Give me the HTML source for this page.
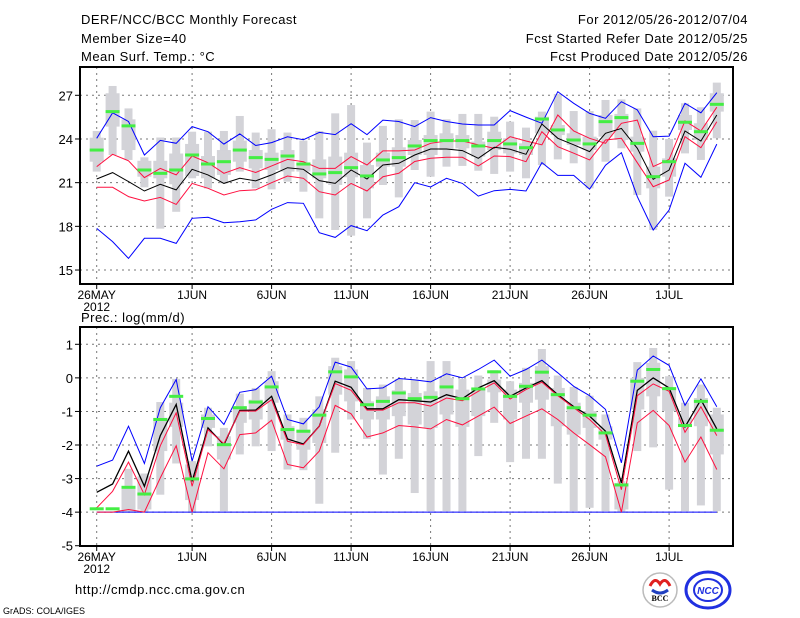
<!DOCTYPE html>
<html><head><meta charset="utf-8"><style>
html,body{margin:0;padding:0;background:#fff;}
svg{display:block;font-family:"Liberation Sans",sans-serif;}
.hdr{letter-spacing:0.5px;}
</style></head><body>
<svg id="c" width="800" height="618" viewBox="0 0 800 618">
<g font-size="13" fill="#000">
<text class="hdr" x="81" y="24">DERF/NCC/BCC Monthly Forecast</text>
<text class="hdr" x="81" y="43">Member Size=40</text>
<text class="hdr" x="81" y="61">Mean Surf. Temp.: °C</text>
<text class="hdr" x="748" y="24" text-anchor="end">For 2012/05/26-2012/07/04</text>
<text class="hdr" x="748" y="43" text-anchor="end">Fcst Started Refer Date 2012/05/25</text>
<text class="hdr" x="748" y="61" text-anchor="end">Fcst Produced Date 2012/05/26</text>
<text class="hdr" x="81" y="322">Prec.: log(mm/d)</text>
<text class="hdr" x="75" y="594">http://cmdp.ncc.cma.gov.cn</text>
<text x="3" y="614" font-size="9">GrADS: COLA/IGES</text>
</g>
<g>
<circle cx="660" cy="590" r="17" fill="#fff" stroke="#bbb" stroke-width="1.5"/>
<path d="M650 586 q5 -10 10 -2 q5 -8 10 2" fill="none" stroke="#e02020" stroke-width="3"/>
<path d="M652 590 q8 6 16 0" fill="none" stroke="#2040c0" stroke-width="3"/>
<text x="660" y="601" font-size="8" text-anchor="middle" font-family="Liberation Serif,serif" font-weight="bold">BCC</text>
</g>
<g>
<ellipse cx="708" cy="590" rx="22" ry="18" fill="none" stroke="#2030e0" stroke-width="3"/>
<ellipse cx="708" cy="590" rx="14" ry="11" fill="none" stroke="#2030e0" stroke-width="2"/>
<text x="708" y="594" font-size="10" font-style="italic" font-weight="bold" text-anchor="middle" fill="#2030e0">NCC</text>
</g>
<g id="top"></g>
<g id="bot"></g>
</svg>
<script>
// ---- temperature data ----
var tBlueHi=[24.05,25.8,25.2,22.9,23.9,23.7,24.85,24.5,23.65,24.35,23.55,23.75,24.15,23.95,24.45,24.3,25.05,24.3,25.3,25.2,24.85,25.47,25.2,25.03,24.96,24.96,25.95,25.5,25.08,27.25,26.45,25.76,25.42,26.56,26.0,24.16,24.2,26.45,25.8,27.18];
var tRedHi=[22.1,22.95,22.5,21.35,21.98,21.53,22.83,22.37,21.64,22.03,21.7,22.15,22.6,22.44,21.98,21.98,22.79,22.21,23.18,23.18,23.24,23.7,23.86,23.86,23.6,23.36,24.16,23.86,23.6,25.65,24.55,24.05,23.7,25.08,25.3,22.1,22.6,25.24,24.55,26.18];
var tMedian=[21.25,21.69,21.07,20.43,20.89,20.5,21.92,21.53,20.95,21.3,21.12,21.53,22.03,21.92,21.14,20.95,21.87,21.25,22.21,22.33,22.9,23.31,23.31,23.2,22.67,23.43,23.29,22.95,25.03,24.05,23.6,23.13,24.39,24.73,23.36,21.23,21.87,24.55,23.86,25.65];
var tRedLo=[20.68,20.68,20.04,19.74,19.99,19.51,20.95,20.61,20.15,20.45,20.5,21.0,21.46,21.3,20.38,20.15,20.95,20.43,21.41,21.64,22.45,22.67,22.74,22.74,22.15,22.83,22.79,22.44,24.5,23.47,23.02,22.56,23.93,24.05,22.37,20.72,21.18,24.16,23.4,25.19];
var tBlueLo=[17.86,16.95,15.8,17.18,17.18,16.83,18.55,18.62,18.25,18.32,18.44,19.17,19.63,19.58,17.56,17.24,18.05,17.7,18.78,19.35,21.0,20.7,21.3,20.95,20.08,20.45,20.54,20.43,22.38,21.5,21.5,20.56,22.2,23.06,20.04,17.75,19.12,22.33,21.37,23.65];
var tMax=[24.55,27.64,26.1,22.74,24.1,24.1,24.5,24.5,24.55,25.58,24.44,24.67,24.44,23.89,24.55,25.76,26.33,23.75,24.9,25.35,25.3,25.88,25.35,25.72,25.72,25.53,25.19,24.78,25.88,27.09,25.92,25.92,26.68,26.72,26.1,24.57,24.0,26.45,26.18,27.87];
var tMin=[21.76,22.9,22.56,20.68,17.84,19.0,21.3,20.6,20.95,21.76,20.61,20.54,21.07,20.38,18.55,17.75,17.36,18.55,20.84,19.99,21.87,21.41,22.1,22.15,21.82,21.6,21.76,21.3,22.21,22.6,22.33,20.61,22.44,23.36,20.15,17.75,20.04,23.01,22.56,24.05];
var tQ3=[24.09,27.14,25.35,22.5,22.5,23.0,23.66,22.83,23.24,23.89,23.24,23.06,23.24,22.37,22.6,22.79,23.06,22.21,23.06,23.43,23.93,24.27,24.39,24.27,23.82,24.5,24.05,23.7,25.53,24.96,24.39,24.16,25.65,25.72,24.16,22.1,22.67,25.65,25.08,27.14];
var tQ1=[22.44,24.85,23.24,21.41,21.3,20.89,21.46,21.3,21.53,22.44,21.98,21.87,21.76,21.76,21.3,20.84,21.37,20.61,22.1,22.1,22.9,22.9,23.24,23.36,22.79,23.24,23.01,22.9,24.39,24.27,23.59,23.24,24.16,23.93,23.13,20.61,21.41,24.62,23.93,25.88];
var tObs=[23.24,25.88,24.9,21.87,21.64,21.87,22.9,22.28,22.44,23.24,22.72,22.6,22.83,22.28,21.6,21.69,22.03,21.46,22.56,22.72,23.52,23.89,23.89,23.89,23.52,23.89,23.66,23.4,25.37,24.62,23.93,23.66,25.19,25.47,23.7,21.41,22.44,25.15,24.5,26.38];
var tTicks=[27,24,21,18,15];
// ---- precipitation data ----
var pBlueHi=[-2.63,-2.45,-1.44,-2.55,-0.89,-0.05,-2.48,-0.86,-1.39,-0.43,-0.35,0.05,-1.24,-1.37,-0.86,0.47,0.32,-0.33,-0.3,-0.02,-0.06,-0.12,0.12,0,0.25,0.53,0.05,0.25,0.53,0.15,-0.25,-0.53,-0.94,-2.53,0.23,0.65,0.37,-0.82,-0.03,-0.86];
var pMedian=[-3.41,-3.16,-2.18,-3.23,-1.72,-0.79,-3.08,-1.49,-1.99,-0.97,-0.96,-0.55,-1.82,-1.97,-1.44,-0.1,-0.28,-0.92,-0.92,-0.65,-0.68,-0.72,-0.5,-0.62,-0.3,-0.08,-0.55,-0.3,-0.08,-0.5,-0.86,-1.14,-1.59,-3.13,-0.37,0,-0.3,-1.46,-0.65,-1.52];
var pRedHi=[-3.87,-3.38,-2.51,-3.48,-2.02,-1.04,-3.23,-1.54,-1.96,-0.99,-0.99,-0.65,-1.89,-1.99,-1.44,-0.17,-0.37,-0.96,-0.96,-0.74,-0.74,-0.84,-0.6,-0.68,-0.4,-0.15,-0.63,-0.35,-0.13,-0.53,-0.89,-1.24,-1.69,-3.33,-0.53,-0.18,-0.4,-1.62,-0.86,-1.72];
var pRedLo=[-4,-4,-3.92,-4,-2.98,-2.02,-4,-2.23,-2.71,-1.69,-1.64,-1.26,-2.58,-2.68,-2.18,-0.82,-1.07,-1.76,-1.64,-1.42,-1.46,-1.52,-1.24,-1.4,-1.14,-0.87,-1.36,-1.14,-0.92,-1.24,-1.64,-1.99,-2.35,-4,-1.34,-0.97,-1.42,-2.51,-1.76,-2.73];
var pBlueLo=[-4,-4,-4,-4,-4,-4,-4,-4,-4,-4,-4,-4,-4,-4,-4,-4,-4,-4,-4,-4,-4,-4,-4,-4,-4,-4,-4,-4,-4,-4,-4,-4,-4,-4,-4,-4,-4,-4,-4,-4];
var pMax=[-4,-4,-2.71,-2.85,-0.72,-0.03,-2.48,-0.89,-1.49,-0.47,-0.3,0.2,-1.09,-1.19,-0.55,0.6,0.5,-0.3,-0.2,-0.03,-0.05,0.5,0.5,-0.03,0.07,0.23,-0.1,0.3,0.86,0.07,-0.27,-0.53,-1.09,-3.08,0.47,0.89,0.05,-0.74,-0.2,-0.89];
var pMin=[-4,-4,-3.98,-4,-3.48,-2.55,-4,-2.04,-3.97,-2.28,-2.04,-2.18,-2.73,-2.75,-3.75,-2.23,-1.24,-1.82,-2.88,-2.41,-3.43,-3.97,-3.97,-3.97,-2.33,-1.34,-2.51,-2.41,-2.41,-3.15,-3.97,-3.87,-3.97,-4,-2.18,-2.07,-3.33,-3.97,-3.8,-3.97];
var pQ3=[-4,-4,-3.3,-2.93,-1.19,-0.74,-2.58,-1.09,-1.74,-0.84,-0.65,-0.1,-1.44,-1.54,-0.94,0.35,0.25,-0.7,-0.55,-0.37,-0.45,-0.4,0,-0.35,-0.3,-0.05,-0.35,-0.15,0.35,-0.3,-0.74,-0.99,-1.44,-3.13,0,0.45,-0.35,-1.19,-0.6,-1.09];
var pQ1=[-4,-4,-3.98,-3.92,-2.18,-1.46,-3.64,-1.49,-2.43,-1.34,-1.24,-0.74,-1.84,-2.14,-1.94,-0.5,-0.7,-1.24,-1.24,-1.14,-1.39,-1.49,-1.09,-1.46,-1.14,-0.43,-1.24,-0.74,-0.65,-1.44,-1.69,-1.49,-1.84,-3.92,-0.94,-0.55,-0.99,-1.39,-1.44,-2.28];
var pObs=[-3.9,-3.9,-3.26,-3.46,-1.24,-0.55,-3.01,-1.21,-1.99,-0.89,-0.72,-0.27,-1.54,-1.59,-1.11,0.18,0.03,-0.8,-0.7,-0.45,-0.62,-0.58,-0.27,-0.62,-0.33,0.18,-0.55,-0.25,0.17,-0.5,-0.89,-1.11,-1.64,-3.19,-0.1,0.25,-0.32,-1.42,-0.7,-1.56];
var pTicks=[1,0,-1,-2,-3,-4,-5];
var dateIdx=[0,6,11,16,21,26,31,36];
var dateLabels=["26MAY","1JUN","6JUN","11JUN","16JUN","21JUN","26JUN","1JUL"];

var NS="http://www.w3.org/2000/svg";
function xd(d){return 96.7+d*15.9;}
function mk(parent,tag,attrs){var e=document.createElementNS(NS,tag);for(var k in attrs)e.setAttribute(k,attrs[k]);parent.appendChild(e);return e;}

function panel(g,pfx,top,bot,vTop,vBot,yRef,ticks,series){
  function y(v){return yRef.y0+(yRef.v0-v)*yRef.k;}
  var L=80,R=733;
  ticks.forEach(function(t){
    var ln=mk(g,'line',{x1:L,x2:R,y1:y(t),y2:y(t),stroke:'#777','stroke-dasharray':'2,4','stroke-width':1});
    
    
    var tk=mk(g,'line',{x1:L-5,x2:L,y1:y(t),y2:y(t),stroke:'#000'});
    
    
    var tx=mk(g,'text',{x:L-7,y:y(t)+5,'text-anchor':'end','font-size':13});
    tx.textContent=String(t);
    
    
  });
  dateIdx.forEach(function(d,i){
    var ln=mk(g,'line',{x1:xd(d),x2:xd(d),y1:top,y2:bot,stroke:'#777','stroke-dasharray':'2,4','stroke-width':1});
    
    
    var tk=mk(g,'line',{x1:xd(d),x2:xd(d),y1:bot,y2:bot+5,stroke:'#000'});
    
    
    var tx=mk(g,'text',{x:xd(d),y:bot+15,'text-anchor':'middle','font-size':12});
    tx.textContent=dateLabels[i];
    
    
  });
  var yr=mk(g,'text',{x:xd(0),y:bot+27,'text-anchor':'middle','font-size':12});
  yr.textContent='2012';
  
  
  for(var d=0;d<series.max.length;d++){
    var x=xd(d);
    if(series.max[d]>series.min[d]){
      var b=mk(g,'rect',{x:x-4,y:y(series.max[d]),width:8,height:y(series.min[d])-y(series.max[d]),fill:'#d3d3d8'});
      
      
    }
    if(series.q3[d]>series.q1[d]){
      var w=mk(g,'rect',{x:x-7,y:y(series.q3[d]),width:14,height:y(series.q1[d])-y(series.q3[d]),fill:'#d3d3d8'});
      
      
    }
  }
  series.lines.forEach(function(s){
    var pts=s.v.map(function(v,i){return xd(i).toFixed(1)+','+y(v).toFixed(1);}).join(' ');
    var pl=mk(g,'polyline',{points:pts,fill:'none',stroke:s.c,'stroke-width':s.w||1});
    
    
  });
  for(var d2=0;d2<series.obs.length;d2++){
    var gm=mk(g,'rect',{x:xd(d2)-7,y:y(series.obs[d2])-1.5,width:14,height:3,fill:'#44ee44'});
    
    
  }
  var fr=mk(g,'rect',{x:L,y:top,width:R-L,height:bot-top,fill:'none',stroke:'#000','stroke-width':2});
  
  
}
panel(document.getElementById('top'),'temp',67,284,0,0,{y0:95.3,v0:27,k:14.56},tTicks,
  {max:tMax,min:tMin,q3:tQ3,q1:tQ1,obs:tObs,lines:[
    {v:tBlueHi,c:'#0000ff',n:'blue-upper-line'},{v:tBlueLo,c:'#0000ff',n:'blue-lower-line'},
    {v:tRedHi,c:'#ff1040',n:'red-upper-line'},{v:tRedLo,c:'#ff1040',n:'red-lower-line'},
    {v:tMedian,c:'#000',n:'median-line'}]});
panel(document.getElementById('bot'),'prec',327,546,0,0,{y0:344.3,v0:1,k:33.57},pTicks,
  {max:pMax,min:pMin,q3:pQ3,q1:pQ1,obs:pObs,lines:[
    {v:pBlueHi,c:'#0000ff',n:'blue-upper-line'},{v:pBlueLo,c:'#0000ff',n:'blue-lower-line'},
    {v:pMedian,c:'#000',n:'median-line',w:1.3},{v:pRedHi,c:'#ff1040',n:'red-upper-line'},
    {v:pRedLo,c:'#ff1040',n:'red-lower-line'}]});
</script>
</body></html>
